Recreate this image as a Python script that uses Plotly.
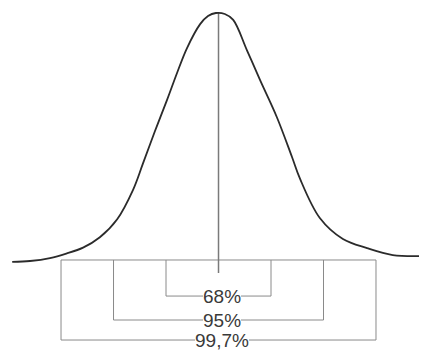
import plotly.graph_objects as go

# Curve: x in standard deviations, y as height relative to the peak
curve_x = [-3.93, -3.59, -3.21, -2.90, -2.58, -2.26, -1.93, -1.63, -1.44, -1.21, -0.98,
           -0.79, -0.60, -0.35, -0.20, -0.05, 0.12, 0.28, 0.54, 0.79, 1.11, 1.40, 1.55,
           1.93, 2.37, 2.83, 3.32, 3.89]
curve_y = [-0.008, -0.004, 0.008, 0.026, 0.050, 0.092, 0.165, 0.283, 0.390, 0.522, 0.648,
           0.757, 0.858, 0.955, 0.988, 1.0, 0.996, 0.972, 0.850, 0.729, 0.579, 0.417, 0.330,
           0.170, 0.085, 0.048, 0.020, 0.016]

bracket_sigma = [1, 2, 3]
bracket_labels = ["68%", "95%", "99,7%"]

# layout/styling constants
bracket_depth = [-0.146, -0.243, -0.324]
center_line_bottom = -0.053

fig = go.Figure()

# top line of brackets
fig.add_trace(go.Scatter(x=[-bracket_sigma[-1], bracket_sigma[-1]], y=[0, 0], mode="lines",
                         line=dict(color="#8a8a8a", width=1), hoverinfo="skip"))

for s, d in zip(bracket_sigma, bracket_depth):
    fig.add_trace(go.Scatter(x=[-s, -s, s, s], y=[0, d, d, 0], mode="lines",
                             line=dict(color="#8a8a8a", width=1), hoverinfo="skip"))

# center vertical line
fig.add_trace(go.Scatter(x=[0, 0], y=[1.0, center_line_bottom], mode="lines",
                         line=dict(color="#7a7a7a", width=1.5), hoverinfo="skip"))

# the curve
fig.add_trace(go.Scatter(x=curve_x, y=curve_y, mode="lines",
                         line=dict(color="#2b2b2b", width=1.8, shape="spline", smoothing=1.0),
                         hoverinfo="skip"))

for lab, d in zip(bracket_labels, bracket_depth):
    fig.add_annotation(x=0.07, y=d, text=lab, showarrow=False,
                       font=dict(family="Liberation Sans", size=19, color="#3a3a3a"),
                       bgcolor="white", borderpad=0, borderwidth=0,
                       xanchor="center", yanchor="middle")

# page body has an 8px margin, so ranges are set to place marks at the reference pixels
fig.update_layout(
    width=427, height=352,
    margin=dict(l=0, r=0, t=0, b=0),
    paper_bgcolor="white", plot_bgcolor="white",
    showlegend=False,
    xaxis=dict(range=[-4.010, 4.124], visible=False, fixedrange=True),
    yaxis=dict(range=[-0.4049, 1.0202], visible=False, fixedrange=True),
)

fig.write_html("out.html")
